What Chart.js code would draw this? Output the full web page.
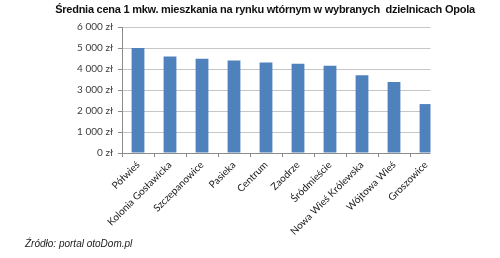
<!DOCTYPE html>
<html>
<head>
<meta charset="utf-8">
<script src="https://cdn.jsdelivr.net/npm/chart.js@4.4.0/dist/chart.umd.min.js"></script>
<style>
  body { margin: 0; background: #fff; }
  #wrap { position: relative; width: 500px; height: 258px; }
  #title { position: absolute; left: 0; width: 530px; top: 3px; text-align: center; letter-spacing: -0.25px;
           font: bold 11px "Liberation Sans", Arial, sans-serif; color: #111; white-space: pre; }
  #source { position: absolute; left: 25px; top: 238px;
            font: italic 10px "Liberation Sans", Arial, sans-serif; color: #222; }
</style>
</head>
<body>
<div id="wrap">
  <canvas id="chart" width="500" height="258"></canvas>
  <div id="title">Średnia cena 1 mkw. mieszkania na rynku wtórnym w wybranych  dzielnicach Opola</div>
  <div id="source">Źródło: portal otoDom.pl</div>
</div>
<script>
const districts = ["Półwieś", "Kolonia Gosławicka", "Szczepanowice", "Pasieka", "Centrum",
                   "Zaodrze", "Śródmieście", "Nowa Wieś Królewska", "Wójtowa Wieś", "Groszowice"];
const prices = [5000, 4600, 4490, 4400, 4310, 4250, 4160, 3700, 3380, 2330];
const yTicks = [0, 1000, 2000, 3000, 4000, 5000, 6000];

const fmtZl = (v) => String(v).replace(/\B(?=(\d{3})+(?!\d))/g, " ") + " zł";

// the original picture is cut off just left of the last category's edge
const clipRight = {
    id: 'clipRight',
    afterDraw(chart) {
        const a = chart.chartArea, ctx = chart.ctx;
        ctx.save();
        ctx.fillStyle = '#fff';
        ctx.fillRect(a.right - 11.5, 0, 30, a.bottom + 5);
        ctx.restore();
    }
};

new Chart(document.getElementById('chart'), {
    type: 'bar',
    data: {
        labels: districts,
        datasets: [{ data: prices, backgroundColor: '#4f81bd', barPercentage: 0.5, categoryPercentage: 0.8 }]
    },
    options: {
        responsive: false,
        animation: false,
        devicePixelRatio: 1,
        layout: { padding: { top: 27, left: 0, right: 58, bottom: 0 } },
        plugins: { legend: { display: false }, tooltip: { enabled: false } },
        scales: {
            y: {
                min: 0, max: 6000,
                afterFit: (s) => { s.width = 122; },
                afterBuildTicks: (s) => { s.ticks = yTicks.map(v => ({ value: v })); },
                border: { color: '#8c8c8c' },
                grid: { color: '#c6c6c6', tickLength: 4, tickColor: '#8c8c8c' },
                ticks: { callback: fmtZl, padding: 5, color: '#404040', font: { family: 'Lato', size: 10 } }
            },
            x: {
                afterFit: (s) => { s.height = 105; },
                border: { color: '#8c8c8c' },
                grid: { drawOnChartArea: false, offset: true, tickLength: 4, tickColor: '#8c8c8c' },
                ticks: { minRotation: 45, maxRotation: 45, autoSkip: false, padding: 2,
                         color: '#202020', font: { family: 'Lato', size: 10 } }
            }
        }
    },
    plugins: [clipRight]
});
</script>
</body>
</html>
